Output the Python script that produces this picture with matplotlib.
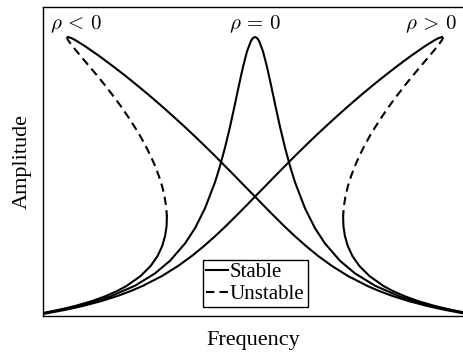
import matplotlib
matplotlib.use("Agg")
import matplotlib.pyplot as plt

plt.rcParams['font.family'] = 'serif'
plt.rcParams['font.serif'] = ['Liberation Serif', 'DejaVu Serif']
plt.rcParams['mathtext.fontset'] = 'cm'

# linear oscillator (rho = 0)
freq_lin = [0.4625, 0.5625, 0.6375, 0.70, 0.75, 0.7875, 0.825, 0.85, 0.875, 0.90,
            0.9125, 0.925, 0.9375, 0.95, 0.96, 0.97, 0.98, 0.99, 0.995, 1.00,
            1.005, 1.01, 1.02, 1.03, 1.04, 1.05, 1.0625, 1.075, 1.0875, 1.10,
            1.125, 1.15, 1.175, 1.2125, 1.25, 1.30, 1.3625, 1.4375, 1.5375]
amp_lin = [0.02, 0.103, 0.194, 0.303, 0.426, 0.552, 0.725, 0.878, 1.077, 1.338,
           1.499, 1.684, 1.892, 2.121, 2.310, 2.491, 2.646, 2.752, 2.780, 2.79,
           2.780, 2.752, 2.646, 2.491, 2.310, 2.121, 1.892, 1.684, 1.499, 1.338,
           1.077, 0.878, 0.725, 0.552, 0.426, 0.303, 0.194, 0.103, 0.02]

# hardening (rho > 0)
freq_hard_up = [0.4693, 0.4840, 0.5240, 0.5693, 0.6165, 0.6560, 0.6895, 0.7188, 0.7675,
                0.8075, 0.8420, 0.8725, 0.9008, 0.9273, 0.9525, 0.9773, 1.0015, 1.0260,
                1.0503, 1.0750, 1.0998, 1.1253, 1.1513, 1.1780, 1.2055, 1.2335, 1.2625,
                1.2925, 1.3235, 1.3558, 1.3895, 1.4255, 1.4498, 1.4595, 1.4675]
amp_hard_up = [0.02, 0.03, 0.06, 0.10, 0.15, 0.20, 0.25, 0.30, 0.40,
               0.50, 0.60, 0.70, 0.80, 0.90, 1.00, 1.10, 1.20, 1.30,
               1.40, 1.50, 1.60, 1.70, 1.80, 1.90, 2.00, 2.10, 2.20,
               2.30, 2.40, 2.50, 2.60, 2.70, 2.76, 2.78, 2.79]
freq_hard_mid = [1.4675, 1.4698, 1.4675, 1.4568, 1.4360, 1.4148, 1.3938, 1.3735, 1.3543,
                 1.3358, 1.3185, 1.3023, 1.2870, 1.2733, 1.2608, 1.2498, 1.2403, 1.2323,
                 1.2263, 1.2223, 1.2203]
amp_hard_mid = [2.79, 2.78, 2.76, 2.70, 2.60, 2.50, 2.40, 2.30, 2.20,
                2.10, 2.00, 1.90, 1.80, 1.70, 1.60, 1.50, 1.40, 1.30,
                1.20, 1.10, 1.00]
freq_hard_low = [1.2203, 1.2210, 1.2248, 1.2320, 1.2435, 1.2610, 1.2860, 1.3213, 1.3445,
                 1.3728, 1.4070, 1.4498, 1.4920, 1.5298, 1.5438]
amp_hard_low = [1.00, 0.90, 0.80, 0.70, 0.60, 0.50, 0.40, 0.30, 0.25,
                0.20, 0.15, 0.10, 0.06, 0.03, 0.02]

# softening (rho < 0)
freq_soft_up = [1.5307, 1.5160, 1.4760, 1.4307, 1.3835, 1.3440, 1.3105, 1.2812, 1.2325,
                1.1925, 1.1580, 1.1275, 1.0992, 1.0727, 1.0475, 1.0227, 0.9985, 0.9740,
                0.9497, 0.9250, 0.9002, 0.8747, 0.8487, 0.8220, 0.7945, 0.7665, 0.7375,
                0.7075, 0.6765, 0.6442, 0.6105, 0.5745, 0.5502, 0.5405, 0.5325]
amp_soft_up = amp_hard_up
freq_soft_mid = [0.5325, 0.5302, 0.5325, 0.5432, 0.5640, 0.5852, 0.6062, 0.6265, 0.6457,
                 0.6642, 0.6815, 0.6977, 0.7130, 0.7267, 0.7392, 0.7502, 0.7597, 0.7677,
                 0.7737, 0.7777, 0.7797]
amp_soft_mid = amp_hard_mid
freq_soft_low = [0.7797, 0.7790, 0.7752, 0.7680, 0.7565, 0.7390, 0.7140, 0.6787, 0.6555,
                 0.6272, 0.5930, 0.5502, 0.5080, 0.4702, 0.4562]
amp_soft_low = amp_hard_low

fig = plt.figure(figsize=(4.63, 3.52), dpi=100)
ax = fig.add_axes([43/463, 36/352, 420/463, 309.5/352])

lw = 1.5
dash = (4, 2.5)
ax.plot(freq_lin, amp_lin, color='k', lw=lw)
ax.plot(freq_soft_up, amp_soft_up, color='k', lw=lw, label='Stable')
ax.plot(freq_soft_mid, amp_soft_mid, color='k', lw=lw, ls='--', dashes=dash, label='Unstable')
ax.plot(freq_soft_low, amp_soft_low, color='k', lw=lw)
ax.plot(freq_hard_up, amp_hard_up, color='k', lw=lw)
ax.plot(freq_hard_mid, amp_hard_mid, color='k', lw=lw, ls='--', dashes=dash)
ax.plot(freq_hard_low, amp_hard_low, color='k', lw=lw)

ax.set_xlim(0.47, 1.52)
ax.set_ylim(0, 3.095)
ax.set_xticks([])
ax.set_yticks([])
ax.spines['right'].set_visible(False)
for s in ['left', 'top', 'bottom']:
    ax.spines[s].set_linewidth(1.0)

ax.text(0.017, 0.927, r'$\rho\,<\,0$', transform=ax.transAxes, fontsize=15, ha='left', va='baseline')
ax.text(0.505, 0.927, r'$\rho\,=\,0$', transform=ax.transAxes, fontsize=15, ha='center', va='baseline')
ax.text(0.986, 0.927, r'$\rho\,>\,0$', transform=ax.transAxes, fontsize=15, ha='right', va='baseline')

ax.set_xlabel('Frequency', fontsize=16, labelpad=11)
ax.set_ylabel('Amplitude', fontsize=16, labelpad=8)

leg = ax.legend(loc='lower center', bbox_to_anchor=(0.505, 0.029), fontsize=15,
                handlelength=1.05, handletextpad=0.1, labelspacing=0.1,
                borderpad=0.15, borderaxespad=0, fancybox=False,
                edgecolor='black', framealpha=1)
leg.get_frame().set_linewidth(1.0)

fig.savefig('out.png', dpi=100)
